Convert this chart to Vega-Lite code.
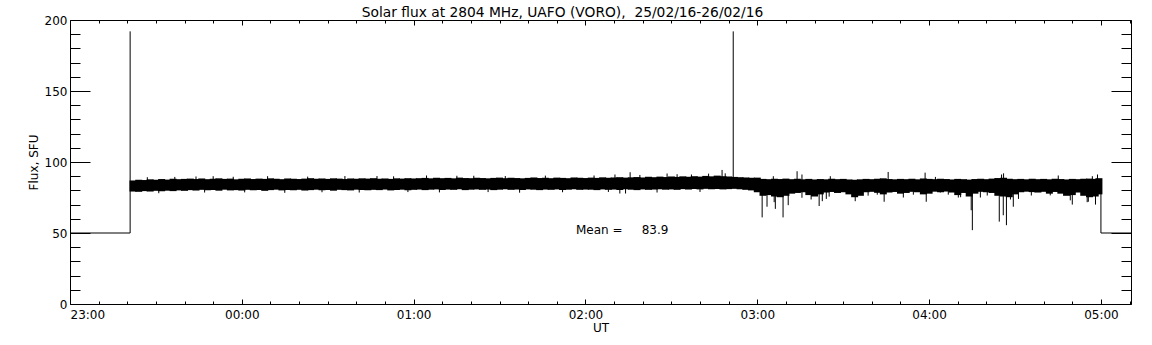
{
  "$schema": "https://vega.github.io/schema/vega-lite/v6.json",
  "width": 1061,
  "height": 284,
  "autosize": {"type": "none"},
  "padding": {"left": 70, "top": 20, "right": 21, "bottom": 41},
  "background": "white",
  "title": {
    "text": "Solar flux at 2804 MHz, UAFO (VORO),\u00a0\u00a025/02/16-26/02/16",
    "font": "DejaVu Sans",
    "fontSize": 13.8,
    "fontWeight": "normal",
    "color": "black",
    "anchor": "middle",
    "dx": -38,
    "dy": 10,
    "offset": 4
  },
  "config": {
    "view": {"stroke": "black", "strokeWidth": 1},
    "axis": {
      "domain": false,
      "grid": false,
      "tickColor": "black",
      "tickWidth": 1,
      "labelColor": "black",
      "labelFont": "DejaVu Sans",
      "labelFontSize": 12,
      "titleFont": "DejaVu Sans",
      "titleFontSize": 12,
      "titleFontWeight": "normal",
      "titleColor": "black"
    }
  },
  "datasets": {
    "base": [
      {"t": 0, "v": 50, "seg": "a"}, {"t": 21, "v": 50, "seg": "a"},
      {"t": 360, "v": 50, "seg": "b"}, {"t": 370.5, "v": 50, "seg": "b"}
    ],
    "band": [
      {"t":22,"lo":79.2,"hi":87.0},{"t":24,"lo":79.0,"hi":87.5},{"t":26,"lo":79.5,"hi":87.3},{"t":28,"lo":79.2,"hi":87.8},{"t":30,"lo":79.7,"hi":87.5},
      {"t":32,"lo":79.4,"hi":88.0},{"t":34,"lo":79.8,"hi":87.6},{"t":36,"lo":79.5,"hi":88.2},{"t":38,"lo":80.0,"hi":87.9},{"t":40,"lo":79.7,"hi":88.1},
      {"t":42,"lo":80.2,"hi":88.3},{"t":44,"lo":79.9,"hi":88.0},{"t":46,"lo":80.4,"hi":88.4},{"t":48,"lo":80.1,"hi":87.9},{"t":50,"lo":80.3,"hi":88.2},
      {"t":52,"lo":79.8,"hi":88.5},{"t":54,"lo":80.5,"hi":88.1},{"t":56,"lo":80.0,"hi":88.3},{"t":58,"lo":80.2,"hi":87.8},{"t":60,"lo":79.9,"hi":88.2},
      {"t":62,"lo":80.4,"hi":88.4},{"t":64,"lo":80.1,"hi":88.0},{"t":66,"lo":80.3,"hi":88.3},{"t":68,"lo":79.7,"hi":88.1},{"t":70,"lo":80.2,"hi":88.5},
      {"t":72,"lo":80.5,"hi":88.2},{"t":74,"lo":80.0,"hi":87.9},{"t":76,"lo":80.3,"hi":88.4},{"t":78,"lo":80.1,"hi":88.2},{"t":80,"lo":80.4,"hi":88.0},
      {"t":82,"lo":79.9,"hi":88.3},{"t":84,"lo":80.2,"hi":88.6},{"t":86,"lo":80.5,"hi":88.2},{"t":88,"lo":80.1,"hi":88.4},{"t":90,"lo":80.3,"hi":88.1},
      {"t":92,"lo":79.8,"hi":88.5},{"t":94,"lo":80.4,"hi":88.3},{"t":96,"lo":80.2,"hi":88.0},{"t":98,"lo":80.0,"hi":88.4},{"t":100,"lo":80.5,"hi":88.2},
      {"t":102,"lo":80.3,"hi":88.5},{"t":104,"lo":80.1,"hi":88.3},{"t":106,"lo":80.4,"hi":88.6},{"t":108,"lo":80.2,"hi":88.2},{"t":110,"lo":80.6,"hi":88.4},
      {"t":112,"lo":80.0,"hi":88.1},{"t":114,"lo":80.3,"hi":88.5},{"t":116,"lo":80.5,"hi":88.3},{"t":118,"lo":80.1,"hi":88.6},{"t":120,"lo":80.4,"hi":88.4},
      {"t":122,"lo":80.6,"hi":88.6},{"t":124,"lo":80.2,"hi":88.8},{"t":126,"lo":80.5,"hi":88.5},{"t":128,"lo":80.7,"hi":88.9},{"t":130,"lo":80.3,"hi":88.6},
      {"t":132,"lo":80.6,"hi":88.8},{"t":134,"lo":80.4,"hi":88.5},{"t":136,"lo":80.8,"hi":89.0},{"t":138,"lo":80.2,"hi":88.7},{"t":140,"lo":80.5,"hi":88.6},
      {"t":142,"lo":80.7,"hi":88.9},{"t":144,"lo":80.4,"hi":88.7},{"t":146,"lo":80.6,"hi":88.5},{"t":148,"lo":80.2,"hi":88.8},{"t":150,"lo":80.5,"hi":89.0},
      {"t":152,"lo":80.8,"hi":88.6},{"t":154,"lo":80.4,"hi":88.9},{"t":156,"lo":80.6,"hi":88.7},{"t":158,"lo":80.3,"hi":88.5},{"t":160,"lo":80.7,"hi":88.8},
      {"t":162,"lo":80.5,"hi":89.1},{"t":164,"lo":80.2,"hi":88.7},{"t":166,"lo":80.6,"hi":88.9},{"t":168,"lo":80.4,"hi":88.6},{"t":170,"lo":80.7,"hi":89.0},
      {"t":172,"lo":80.3,"hi":88.8},{"t":174,"lo":80.5,"hi":88.6},{"t":176,"lo":80.8,"hi":89.1},{"t":178,"lo":80.4,"hi":88.9},{"t":180,"lo":80.6,"hi":88.7},
      {"t":182,"lo":80.5,"hi":89.0},{"t":184,"lo":80.2,"hi":88.8},{"t":186,"lo":80.7,"hi":89.2},{"t":188,"lo":80.4,"hi":88.9},{"t":190,"lo":80.6,"hi":89.1},
      {"t":192,"lo":80.3,"hi":89.3},{"t":194,"lo":80.8,"hi":89.0},{"t":196,"lo":80.5,"hi":89.2},{"t":198,"lo":80.2,"hi":89.4},{"t":200,"lo":80.7,"hi":89.1},
      {"t":202,"lo":80.4,"hi":89.6},{"t":204,"lo":80.6,"hi":89.3},{"t":206,"lo":80.8,"hi":89.7},{"t":208,"lo":80.5,"hi":89.4},{"t":210,"lo":80.7,"hi":89.8},
      {"t":212,"lo":80.4,"hi":89.5},{"t":214,"lo":80.9,"hi":89.9},{"t":216,"lo":80.6,"hi":89.6},{"t":218,"lo":81.0,"hi":90.0},{"t":220,"lo":80.7,"hi":89.7},
      {"t":222,"lo":81.1,"hi":90.2},{"t":224,"lo":80.8,"hi":89.9},{"t":226,"lo":81.0,"hi":90.4},{"t":228,"lo":80.7,"hi":90.0},{"t":230,"lo":80.9,"hi":89.8},
      {"t":232,"lo":81.1,"hi":89.5},{"t":234,"lo":80.8,"hi":89.3},{"t":236,"lo":80.4,"hi":89.1},{"t":238,"lo":80.0,"hi":88.9},{"t":240,"lo":78.7,"hi":89.0},
      {"t":242,"lo":76.2,"hi":88.1},{"t":244,"lo":76.7,"hi":87.9},{"t":246,"lo":75.7,"hi":88.2},{"t":248,"lo":75.2,"hi":88.0},{"t":250,"lo":76.2,"hi":88.3},
      {"t":252,"lo":77.7,"hi":87.9},{"t":254,"lo":78.2,"hi":88.2},{"t":256,"lo":78.7,"hi":87.8},{"t":258,"lo":76.7,"hi":88.1},{"t":260,"lo":75.7,"hi":87.7},
      {"t":262,"lo":77.2,"hi":88.0},{"t":264,"lo":78.5,"hi":87.8},{"t":266,"lo":78.9,"hi":88.2},{"t":268,"lo":78.2,"hi":87.9},{"t":270,"lo":78.7,"hi":88.1},
      {"t":272,"lo":77.2,"hi":87.7},{"t":274,"lo":75.2,"hi":87.5},{"t":276,"lo":76.2,"hi":87.8},{"t":278,"lo":78.7,"hi":88.1},{"t":280,"lo":79.0,"hi":87.9},
      {"t":282,"lo":78.3,"hi":88.2},{"t":284,"lo":77.2,"hi":88.5},{"t":286,"lo":78.5,"hi":88.0},{"t":288,"lo":78.9,"hi":87.8},{"t":290,"lo":77.7,"hi":88.1},
      {"t":292,"lo":78.2,"hi":87.9},{"t":294,"lo":79.0,"hi":88.2},{"t":296,"lo":78.7,"hi":87.8},{"t":298,"lo":77.2,"hi":88.4},{"t":300,"lo":77.7,"hi":88.1},
      {"t":302,"lo":79.1,"hi":87.9},{"t":304,"lo":78.7,"hi":88.2},{"t":306,"lo":79.2,"hi":88.0},{"t":308,"lo":78.5,"hi":87.7},{"t":310,"lo":76.7,"hi":88.1},
      {"t":312,"lo":78.2,"hi":87.9},{"t":314,"lo":75.7,"hi":87.6},{"t":316,"lo":77.7,"hi":88.0},{"t":318,"lo":79.0,"hi":88.2},{"t":320,"lo":78.7,"hi":87.9},
      {"t":322,"lo":78.2,"hi":88.3},{"t":324,"lo":76.2,"hi":88.7},{"t":326,"lo":75.7,"hi":88.9},{"t":328,"lo":75.2,"hi":88.2},{"t":330,"lo":77.2,"hi":87.9},
      {"t":332,"lo":78.7,"hi":88.1},{"t":334,"lo":79.1,"hi":87.8},{"t":336,"lo":78.8,"hi":88.2},{"t":338,"lo":78.5,"hi":87.9},{"t":340,"lo":79.0,"hi":88.1},
      {"t":342,"lo":77.7,"hi":87.8},{"t":344,"lo":78.9,"hi":88.2},{"t":346,"lo":77.7,"hi":88.0},{"t":348,"lo":76.2,"hi":87.7},{"t":350,"lo":76.7,"hi":88.1},
      {"t":352,"lo":78.5,"hi":87.9},{"t":354,"lo":76.2,"hi":88.2},{"t":356,"lo":75.2,"hi":88.3},{"t":358,"lo":75.7,"hi":88.1},{"t":359.3,"lo":77.2,"hi":88.6}
    ],
    "hair": [
      {"t":21,"lo":50,"hi":192},{"t":231.6,"lo":85,"hi":192},{"t":360,"lo":50,"hi":87.5},
      {"t":241.7,"lo":61,"hi":83},{"t":243.4,"lo":68.5,"hi":83},{"t":245.9,"lo":71.7,"hi":83},{"t":246.3,"lo":67,"hi":83},{"t":247.0,"lo":76.5,"hi":83},
      {"t":248.0,"lo":75.5,"hi":83},{"t":249.0,"lo":61,"hi":83},{"t":250.8,"lo":69.6,"hi":83},{"t":255.6,"lo":74.8,"hi":83},{"t":257.4,"lo":77,"hi":83},
      {"t":258.8,"lo":73.6,"hi":83},{"t":261.6,"lo":69,"hi":83},{"t":262.7,"lo":72.4,"hi":83},{"t":264.1,"lo":74,"hi":83},{"t":265.1,"lo":75.6,"hi":83},
      {"t":274.2,"lo":72.4,"hi":83},{"t":278.7,"lo":76.3,"hi":83},{"t":281.9,"lo":77,"hi":83},{"t":284.3,"lo":72,"hi":83},{"t":291.0,"lo":75,"hi":83},
      {"t":294.5,"lo":77,"hi":83},{"t":299.0,"lo":72,"hi":83},{"t":300.7,"lo":78,"hi":83},{"t":303.9,"lo":78.5,"hi":83},{"t":306.7,"lo":77,"hi":83},
      {"t":310.2,"lo":75,"hi":83},{"t":311.0,"lo":75.2,"hi":83},{"t":313.3,"lo":77,"hi":83},{"t":314.7,"lo":66,"hi":83},{"t":315.1,"lo":52,"hi":83},
      {"t":317.9,"lo":75,"hi":83},{"t":320.3,"lo":76.4,"hi":83},{"t":323.8,"lo":78.4,"hi":83},{"t":324.5,"lo":58,"hi":83},{"t":325.9,"lo":62.5,"hi":83},
      {"t":327.0,"lo":55.5,"hi":83},{"t":328.4,"lo":73.6,"hi":83},{"t":329.4,"lo":68.5,"hi":83},{"t":331.2,"lo":74,"hi":83},{"t":335.7,"lo":76.4,"hi":83},
      {"t":342.3,"lo":76.5,"hi":83},{"t":349.3,"lo":73,"hi":83},{"t":350.0,"lo":70,"hi":83},{"t":355.2,"lo":71.7,"hi":83},{"t":355.6,"lo":72,"hi":83},
      {"t":358.1,"lo":70,"hi":83},{"t":192.0,"lo":77.8,"hi":83},
      {"t":50.0,"lo":85,"hi":90},{"t":36.6,"lo":85,"hi":89.5},{"t":124.5,"lo":85,"hi":90.5},{"t":135.1,"lo":85,"hi":90.3},{"t":107.2,"lo":85,"hi":90.1},
      {"t":195.6,"lo":85,"hi":92.8},{"t":190.3,"lo":85,"hi":91.2},{"t":208.5,"lo":85,"hi":91.9},{"t":227.7,"lo":85,"hi":94.4},{"t":228.8,"lo":85,"hi":92},
      {"t":253.9,"lo":85,"hi":93.5},{"t":255.6,"lo":85,"hi":91.2},{"t":245.6,"lo":85,"hi":90},{"t":285.7,"lo":85,"hi":93},{"t":298.6,"lo":85,"hi":92.5},
      {"t":265.5,"lo":85,"hi":90},{"t":326.0,"lo":85,"hi":92},{"t":325.3,"lo":85,"hi":91.2},{"t":302.2,"lo":85,"hi":89.5},{"t":345.1,"lo":85,"hi":90.5},
      {"t":358.8,"lo":85,"hi":91.2},{"t":357.0,"lo":85,"hi":90},
      {"t":27,"lo":85,"hi":89.3},{"t":44,"lo":85,"hi":89.8},{"t":57,"lo":85,"hi":89.6},{"t":69,"lo":85,"hi":90.0},{"t":83,"lo":85,"hi":89.7},
      {"t":96,"lo":85,"hi":90.1},{"t":113,"lo":85,"hi":89.9},{"t":141,"lo":85,"hi":90.3},{"t":152,"lo":85,"hi":90.1},{"t":166,"lo":85,"hi":90.4},
      {"t":183,"lo":85,"hi":90.5},{"t":199,"lo":85,"hi":90.9},{"t":212,"lo":85,"hi":91.4},{"t":217,"lo":85,"hi":91.2},{"t":223,"lo":85,"hi":91.8},
      {"t":31,"lo":78.0,"hi":83},{"t":47,"lo":78.5,"hi":83},{"t":61,"lo":78.6,"hi":83},{"t":75,"lo":78.3,"hi":83},{"t":88,"lo":78.7,"hi":83},
      {"t":101,"lo":78.5,"hi":83},{"t":118,"lo":78.8,"hi":83},{"t":129,"lo":78.6,"hi":83},{"t":146,"lo":78.8,"hi":83},{"t":157,"lo":78.4,"hi":83},
      {"t":172,"lo":78.7,"hi":83},{"t":188,"lo":78.9,"hi":83},{"t":194,"lo":77.8,"hi":83},{"t":205,"lo":78.5,"hi":83},{"t":220,"lo":78.9,"hi":83}
    ],
    "note": [{"t": 176.7, "v": 52, "label": "Mean =\u00a0\u00a0\u00a0\u00a0\u00a083.9"}]
  },
  "resolve": {"axis": {"x": "independent", "y": "independent"}},
  "layer": [
    {
      "data": {"name": "base"},
      "mark": {"type": "line", "color": "black", "strokeWidth": 1},
      "encoding": {
        "x": {
          "field": "t", "type": "quantitative",
          "scale": {"domain": [0, 370.5], "nice": false, "zero": false},
          "axis": {
            "orient": "bottom", "values": [0, 60, 120, 180, 240, 300, 360],
            "tickSize": -5, "labelPadding": 10,
            "labelExpr": "datum.value == 0 ? '23:00' : '0' + floor(datum.value / 60 - 1) + ':00'",
            "title": "UT", "titlePadding": 2
          }
        },
        "y": {
          "field": "v", "type": "quantitative",
          "scale": {"domain": [0, 200], "nice": false},
          "axis": {
            "orient": "left", "values": [0, 50, 100, 150, 200],
            "tickSize": -20, "labelPadding": 23,
            "title": "Flux, SFU", "titlePadding": 4
          }
        },
        "detail": {"field": "seg"}
      }
    },
    {
      "data": {"name": "band"},
      "mark": {"type": "rule", "color": "black", "strokeWidth": 7},
      "encoding": {
        "x": {
          "field": "t", "type": "quantitative",
          "axis": {
            "orient": "bottom",
            "values": [10, 20, 30, 40, 50, 70, 80, 90, 100, 110, 130, 140, 150, 160, 170, 190, 200, 210, 220, 230, 250, 260, 270, 280, 290, 310, 320, 330, 340, 350, 370],
            "tickSize": -3, "labels": false, "title": null
          }
        },
        "y": {
          "field": "lo", "type": "quantitative",
          "axis": {
            "orient": "left",
            "values": [10, 20, 30, 40, 60, 70, 80, 90, 110, 120, 130, 140, 160, 170, 180, 190],
            "tickSize": -10, "labels": false, "title": null
          }
        },
        "y2": {"field": "hi"}
      }
    },
    {
      "data": {"name": "hair"},
      "mark": {"type": "rule", "color": "black", "strokeWidth": 1},
      "encoding": {
        "x": {
          "field": "t", "type": "quantitative",
          "axis": {
            "orient": "top", "values": [0, 60, 120, 180, 240, 300, 360],
            "tickSize": -5, "labels": false, "title": null
          }
        },
        "y": {
          "field": "lo", "type": "quantitative",
          "axis": {
            "orient": "right", "values": [0, 50, 100, 150, 200],
            "tickSize": -20, "labels": false, "title": null
          }
        },
        "y2": {"field": "hi"}
      }
    },
    {
      "data": {"name": "note"},
      "mark": {"type": "text", "color": "black", "font": "DejaVu Sans", "fontSize": 12, "align": "left", "baseline": "middle"},
      "encoding": {
        "x": {
          "field": "t", "type": "quantitative",
          "axis": {
            "orient": "top",
            "values": [10, 20, 30, 40, 50, 70, 80, 90, 100, 110, 130, 140, 150, 160, 170, 190, 200, 210, 220, 230, 250, 260, 270, 280, 290, 310, 320, 330, 340, 350, 370],
            "tickSize": -3, "labels": false, "title": null
          }
        },
        "y": {
          "field": "v", "type": "quantitative",
          "axis": {
            "orient": "right",
            "values": [10, 20, 30, 40, 60, 70, 80, 90, 110, 120, 130, 140, 160, 170, 180, 190],
            "tickSize": -10, "labels": false, "title": null
          }
        },
        "text": {"field": "label"}
      }
    }
  ]
}
